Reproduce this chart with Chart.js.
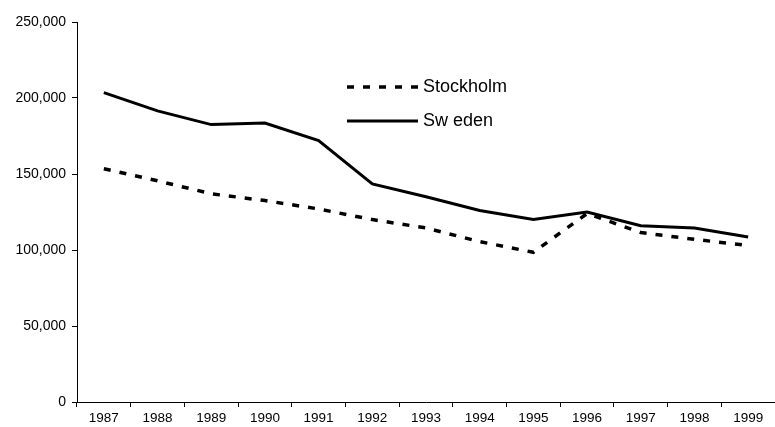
<!DOCTYPE html>
<html>
<head>
<meta charset="utf-8">
<script src="https://cdn.jsdelivr.net/npm/chart.js@4/dist/chart.umd.min.js"></script>
<style>
  body { margin: 0; background: #fff; overflow: hidden; }
  #wrap { width: 775px; height: 427px; }
</style>
</head>
<body>
<div id="wrap"><canvas id="popChart" width="775" height="427"></canvas></div>
<script>
// data
const years = ["1987", "1988", "1989", "1990", "1991", "1992", "1993", "1994", "1995", "1996", "1997", "1998", "1999"];
const stockholm = [153500, 145500, 137000, 132500, 127000, 120000, 114500, 105500, 98500, 124000, 111500, 107000, 103000];
const sweden = [203500, 191500, 182500, 183500, 172000, 143500, 135000, 126000, 120000, 125000, 116000, 114500, 108500];
const yTicks = [0, 50000, 100000, 150000, 200000, 250000];

// legend drawn in the plot, like the original
const insideLegend = {
    id: "insideLegend",
    afterDraw(chart) {
        const ctx = chart.ctx;
        const rows = [
            { ds: chart.data.datasets[0], y: 87 },
            { ds: chart.data.datasets[1], y: 121 }
        ];
        ctx.save();
        rows.forEach(r => {
            ctx.beginPath();
            ctx.strokeStyle = "#000";
            ctx.lineWidth = r.ds.borderWidth;
            ctx.setLineDash(r.ds.borderDash || []);
            ctx.moveTo(347, r.y);
            ctx.lineTo(418, r.y);
            ctx.stroke();
            ctx.setLineDash([]);
            ctx.fillStyle = "#000";
            ctx.font = "18px 'Liberation Sans', Arial, sans-serif";
            ctx.textBaseline = "middle";
            ctx.fillText(r.ds.label, 423, r.y);
        });
        ctx.restore();
    }
};

new Chart(document.getElementById("popChart"), {
    type: "line",
    data: {
        labels: years,
        datasets: [
            { label: "Stockholm", data: stockholm, borderColor: "#000", borderWidth: 3.5, borderDash: [7, 9], pointRadius: 0, tension: 0, fill: false },
            { label: "Sw eden", data: sweden, borderColor: "#000", borderWidth: 3, pointRadius: 0, tension: 0, fill: false }
        ]
    },
    options: {
        responsive: false,
        maintainAspectRatio: false,
        animation: false,
        layout: { padding: { top: 22, left: 0, right: 0, bottom: 0 } },
        plugins: { legend: { display: false }, tooltip: { enabled: false } },
        scales: {
            x: {
                offset: true,
                grid: { offset: true, drawOnChartArea: false, color: "#000", tickLength: 5, tickColor: "#000" },
                border: { color: "#000", width: 1 },
                ticks: { color: "#000", font: { family: "'Liberation Sans', Arial, sans-serif", size: 13.5 }, maxRotation: 0, autoSkip: false, padding: 3 },
                afterFit(scale) { scale.height = 25; }
            },
            y: {
                min: 0,
                max: 250000,
                afterBuildTicks(scale) { scale.ticks = yTicks.map(v => ({ value: v })); },
                grid: { drawOnChartArea: false, color: "#000", tickLength: 5, tickColor: "#000" },
                border: { color: "#000", width: 1 },
                ticks: {
                    color: "#000",
                    font: { family: "'Liberation Sans', Arial, sans-serif", size: 14 },
                    padding: 6,
                    callback: v => v.toLocaleString("en-US")
                },
                afterFit(scale) { scale.width = 77; }
            }
        }
    },
    plugins: [insideLegend]
});
</script>
</body>
</html>
